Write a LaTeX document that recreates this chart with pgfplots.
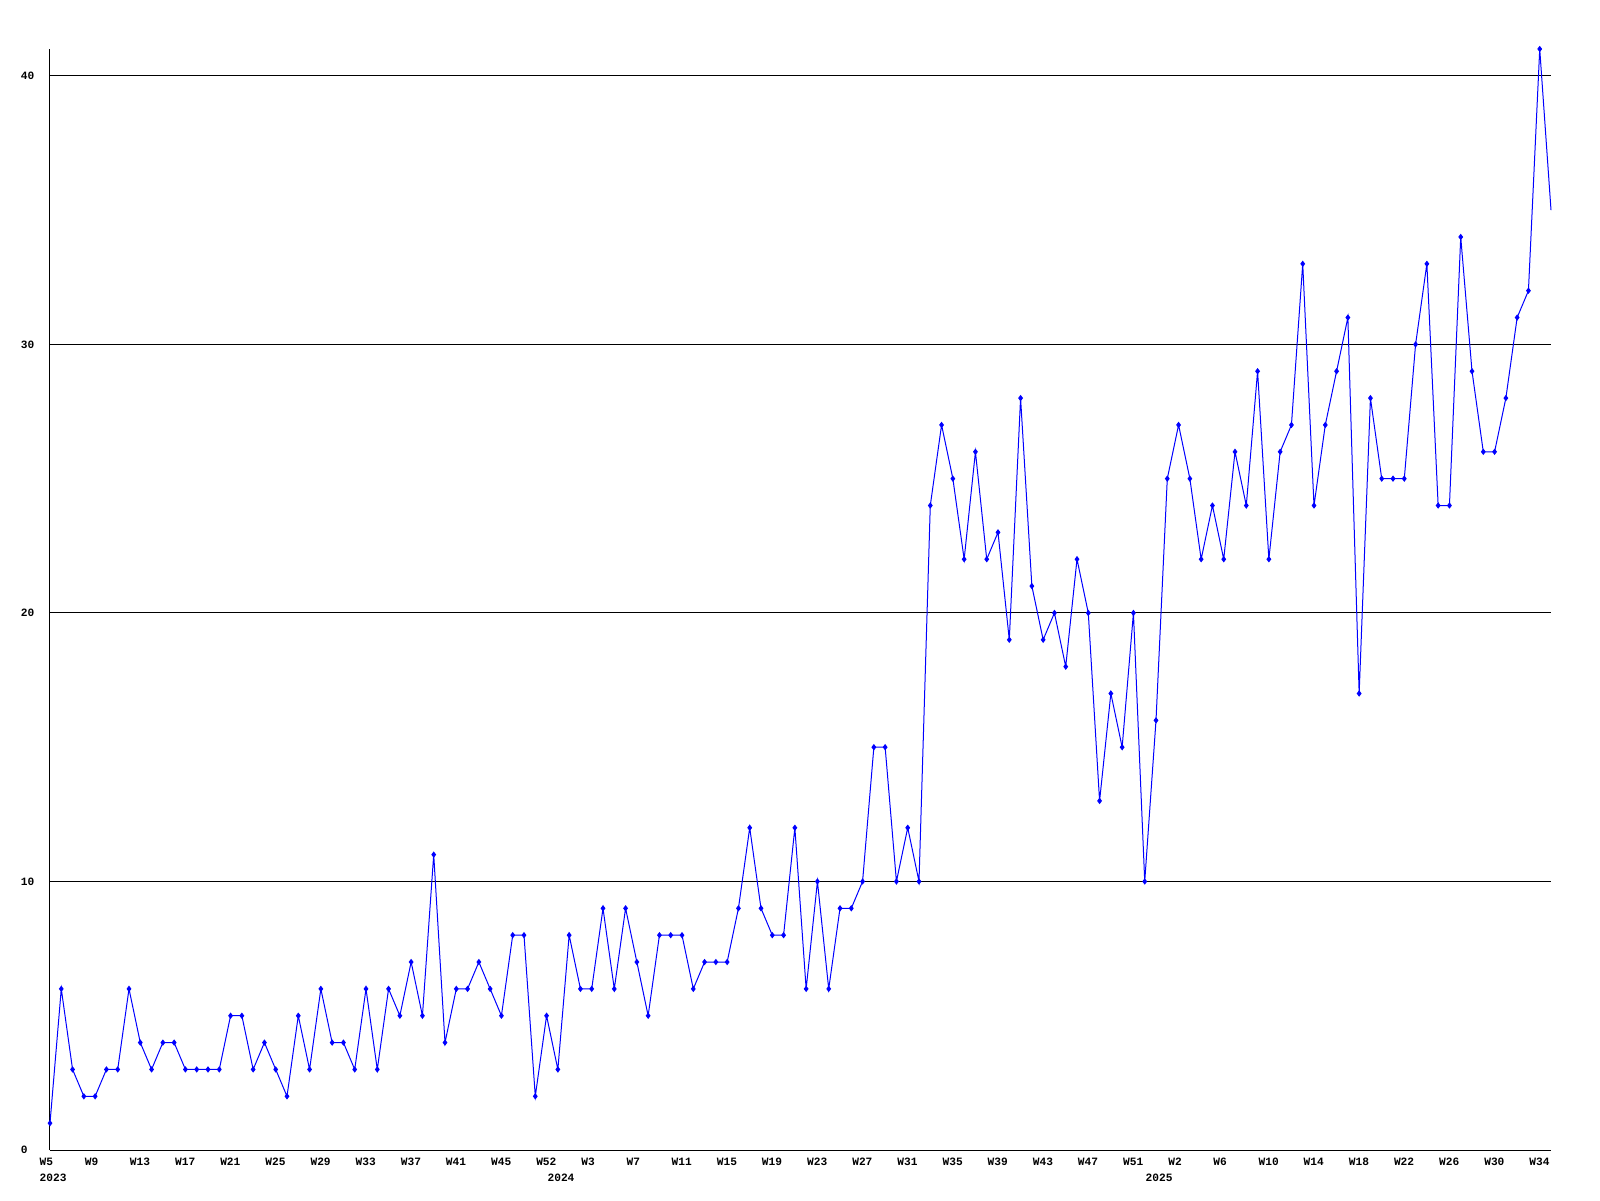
\documentclass[border=0pt]{standalone}
\usepackage{fontspec}
\setmainfont{Liberation Mono}
\usepackage{pgfplots}
\pgfplotsset{compat=1.18}
\begin{document}
\begin{tikzpicture}
\useasboundingbox (0,0) rectangle (800pt,600pt);
\begin{axis}[
  at={(25pt,25pt)}, anchor=south west,
  scale only axis, width=750.5pt, height=550.5pt,
  xmin=0, xmax=133, ymin=0, ymax=41,
  axis x line*=bottom, axis y line*=left,
  axis line style={line width=0.5pt, black},
  tick style={draw=none}, major tick length=0pt,
  ytick={0,10,20,30,40}, yticklabels={0,10,20,30,40},
  ymajorgrids, grid style={line width=0.5pt, black},
  xtick={0,4,...,132},
  xticklabels={W5,W9,W13,W17,W21,W25,W29,W33,W37,W41,W45,W52,W3,W7,W11,W15,W19,W23,W27,W31,W35,W39,W43,W47,W51,W2,W6,W10,W14,W18,W22,W26,W30,W34},
  ticklabel style={font=\fontsize{5.6}{6}\selectfont\bfseries, text=black, inner sep=0pt},
  yticklabel style={anchor=west, xshift=-14.8pt},
  xticklabel style={anchor=base west, xshift=-5.35pt, yshift=-7.85pt},
  extra x ticks={0,45,98},
  extra x tick labels={2023,2024,2025},
  extra x tick style={grid=none, xticklabel style={yshift=-7.75pt}},
  clip=false,
]
\addplot[color={rgb,255:red,0;green,0;blue,255}, line width=0.5pt, mark=diamond*, mark size=1.2pt, mark indices={1,...,133}] coordinates {
(0,1)(1,6)(2,3)(3,2)(4,2)(5,3)(6,3)(7,6)(8,4)(9,3)(10,4)(11,4)(12,3)(13,3)(14,3)(15,3)(16,5)(17,5)(18,3)(19,4)
(20,3)(21,2)(22,5)(23,3)(24,6)(25,4)(26,4)(27,3)(28,6)(29,3)(30,6)(31,5)(32,7)(33,5)(34,11)(35,4)(36,6)(37,6)(38,7)(39,6)
(40,5)(41,8)(42,8)(43,2)(44,5)(45,3)(46,8)(47,6)(48,6)(49,9)(50,6)(51,9)(52,7)(53,5)(54,8)(55,8)(56,8)(57,6)(58,7)(59,7)
(60,7)(61,9)(62,12)(63,9)(64,8)(65,8)(66,12)(67,6)(68,10)(69,6)(70,9)(71,9)(72,10)(73,15)(74,15)(75,10)(76,12)(77,10)(78,24)(79,27)
(80,25)(81,22)(82,26)(83,22)(84,23)(85,19)(86,28)(87,21)(88,19)(89,20)(90,18)(91,22)(92,20)(93,13)(94,17)(95,15)(96,20)(97,10)(98,16)(99,25)
(100,27)(101,25)(102,22)(103,24)(104,22)(105,26)(106,24)(107,29)(108,22)(109,26)(110,27)(111,33)(112,24)(113,27)(114,29)(115,31)(116,17)(117,28)(118,25)(119,25)
(120,25)(121,30)(122,33)(123,24)(124,24)(125,34)(126,29)(127,26)(128,26)(129,28)(130,31)(131,32)(132,41)(133,35)
};
\end{axis}
\end{tikzpicture}
\end{document}
